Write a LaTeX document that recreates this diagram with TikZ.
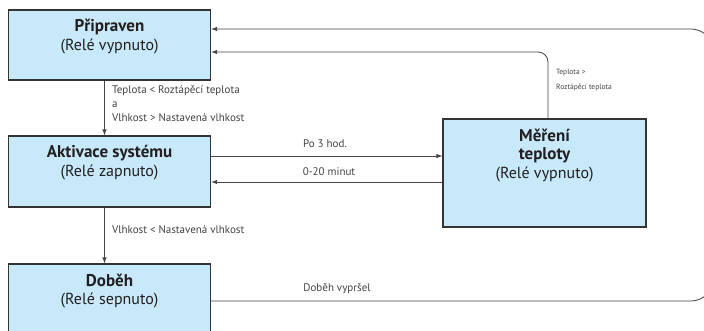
\documentclass[tikz,border=0pt]{standalone}
\usepackage{fontspec}
\setmainfont{PT Sans}
\usetikzlibrary{arrows.meta}
\definecolor{boxfill}{HTML}{C8E9F9}
\definecolor{boxline}{HTML}{333333}
\definecolor{conn}{HTML}{444444}
\definecolor{txt}{HTML}{231F20}
\begin{document}
\begin{tikzpicture}[x=1pt,y=-1pt,
  box/.style={draw=boxline,line width=1.2pt,fill=boxfill,inner sep=0pt},
  ttl/.style={font=\fontsize{17}{19}\selectfont\bfseries,text=txt,inner sep=0pt},
  sub/.style={font=\fontsize{16}{18}\selectfont,text=txt,inner sep=0pt},
  lbl/.style={font=\fontsize{11}{13}\selectfont,text=txt!85,inner sep=0pt},
  tiny/.style={font=\fontsize{7.5}{9}\selectfont,text=txt!85,inner sep=0pt},
  conline/.style={draw=conn,line width=0.8pt},
  arr/.style={conline,-{Latex[length=6pt,width=4.5pt]}}]
\useasboundingbox (0,0) rectangle (704,331);
\clip (0,0) rectangle (704,331);
% boxes
\node[box,minimum width=202pt,minimum height=70pt] (pri) at (109.5,45) {};
\node[box,minimum width=202pt,minimum height=71pt] (akt) at (109.5,171.5) {};
\node[box,minimum width=202pt,minimum height=80pt] (dob) at (109.5,304) {};
\node[box,minimum width=203pt,minimum height=108pt] (mer) at (544.5,173) {};
% box texts
\node[ttl] (t1) at (109.5,27) {Připraven};
\node[sub] (s1) at (109.5,47) {(Relé vypnuto)};
\node[ttl] (t2) at (109.5,153) {Aktivace systému};
\node[sub] (s2) at (109.5,173) {(Relé zapnuto)};
\node[ttl] (t3) at (109.5,280) {Doběh};
\node[sub] (s3) at (109.5,300) {(Relé sepnuto)};
\node[ttl] (t4a) at (544.5,135) {Měření};
\node[ttl] (t4b) at (544.5,155) {teploty};
\node[sub] (s4) at (544.5,175) {(Relé vypnuto)};
% connectors
\draw[arr] ([xshift=-5pt]pri.south) -- ([xshift=-5pt]akt.north);
\draw[arr] ([xshift=-5pt]akt.south) -- ([xshift=-5pt]dob.north);
\draw[arr] (akt.east |- 0,156) -- (mer.west |- 0,156);
\draw[arr] (mer.west |- 0,182) -- (akt.east |- 0,182);
\draw[arr,rounded corners=10pt] (mer.north -| 548,0) |- (pri.east |- 0,52);
\draw[arr,rounded corners=22pt] (dob.east |- 0,301) -- (713,301) -- (713,29) -- (pri.east |- 0,29);
% labels
\node[lbl,anchor=west] (l1) at (112,91) {Teplota < Roztápěcí teplota};
\node[lbl,anchor=west] (l2) at (112,104.5) {a};
\node[lbl,anchor=west] (l3) at (112,118) {Vlhkost > Nastavená vlhkost};
\node[lbl,anchor=west] (l4) at (112,230) {Vlhkost < Nastavená vlhkost};
\node[lbl] (l5) at (325,144) {Po 3 hod.};
\node[lbl] (l6) at (329,172) {0-20 minut};
\node[lbl] (l7) at (337,289) {Doběh vypršel};
\node[tiny,anchor=west] (l8) at (556,73) {Teplota >};
\node[tiny,anchor=west] (l9) at (556,88) {Roztápěcí teplota};
\end{tikzpicture}
\end{document}
